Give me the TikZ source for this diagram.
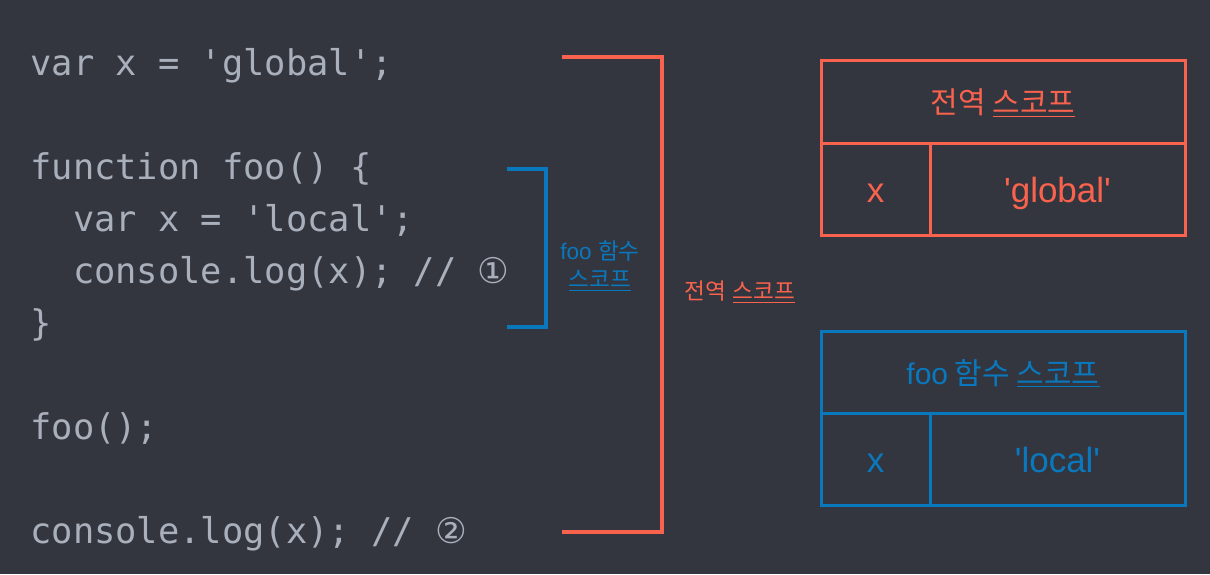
\documentclass[tikz,border=0pt]{standalone}
\usepackage{fontspec}
\setmonofont{DejaVu Sans Mono}
\newfontfamily\lsans{Liberation Sans}
\newfontfamily\kr{Noto Sans CJK KR}
\newfontfamily\dvs{DejaVu Sans}
\usepackage{tikz}
\usetikzlibrary{positioning}

\definecolor{bgdark}{HTML}{33363F}
\definecolor{codegray}{HTML}{A9B0BC}
\definecolor{globred}{HTML}{F9624D}
\definecolor{fooblue}{HTML}{0A78BD}

\begin{document}
\begin{tikzpicture}[
        x=0.5pt, y=-0.5pt,
        code/.style={anchor=base west, inner sep=0pt, text=codegray, font=\ttfamily\fontsize{17.7}{21}\selectfont},
        lbl/.style={align=center, inner sep=0pt, font=\lsans\fontsize{11.3}{14}\selectfont},
        bracket/.style={line width=2pt, line join=miter},
        cell/.style={draw, line width=1.5pt, inner sep=0pt, outer sep=0pt, anchor=north west, minimum height=46pt},
        head/.style={cell, minimum width=182pt, minimum height=41.5pt, text height=12pt, text depth=0pt, font=\kr\fontsize{15}{18}\selectfont},
        val/.style={text height=13pt, text depth=0pt, font=\lsans\fontsize{17.5}{20}\selectfont}
    ]
        \fill[bgdark] (0,0) rectangle (1210,574);

        % code
        \node[code] (l1) at (30,75) {var x = 'global';};
        \node[code] (l2) at (30,179) {function foo() \{};
        \node[code] (l3) at (30,231) {\ \ var x = 'local';};
        \node[code] (l4) at (30,283) {\ \ console.log(x); // {\dvs ①}};
        \node[code] (l5) at (30,335) {\}};
        \node[code] (l6) at (30,439) {foo();};
        \node[code] (l7) at (30,543) {console.log(x); // {\dvs ②}};

        % scope brackets
        \coordinate (fa) at (507,169);
        \coordinate (fb) at (546,327);
        \draw[bracket, fooblue] (fa) -| (fb) -- (fa |- fb);
        \coordinate (ga) at (562,57);
        \coordinate (gb) at (662,532);
        \draw[bracket, globred] (ga) -| (gb) -- (ga |- gb);

        \node[lbl, text=fooblue] (foolbl) at (600,266) {foo {\kr 함수}\\\underline{\kr 스코프}};
        \node[lbl, text=globred] (globlbl) at (740,292) {{\kr 전역} \underline{\kr 스코프}};

        % global scope table
        \node[head, globred] (gtitle) at (821,60) {전역 \underline{스코프}};
        \node[cell, val, globred, minimum width=54.5pt] (gkey) at (gtitle.south west) {x};
        \node[cell, val, globred, minimum width=127.5pt] (gval) at (gkey.north east) {'global'};

        % foo scope table
        \node[head, fooblue, minimum height=41pt] (btitle) at (821,331) {{\lsans foo} 함수 \underline{스코프}};
        \node[cell, val, fooblue, minimum width=54.5pt] (bkey) at (btitle.south west) {x};
        \node[cell, val, fooblue, minimum width=127.5pt] (bval) at (bkey.north east) {'local'};
    \end{tikzpicture}
\end{document}
